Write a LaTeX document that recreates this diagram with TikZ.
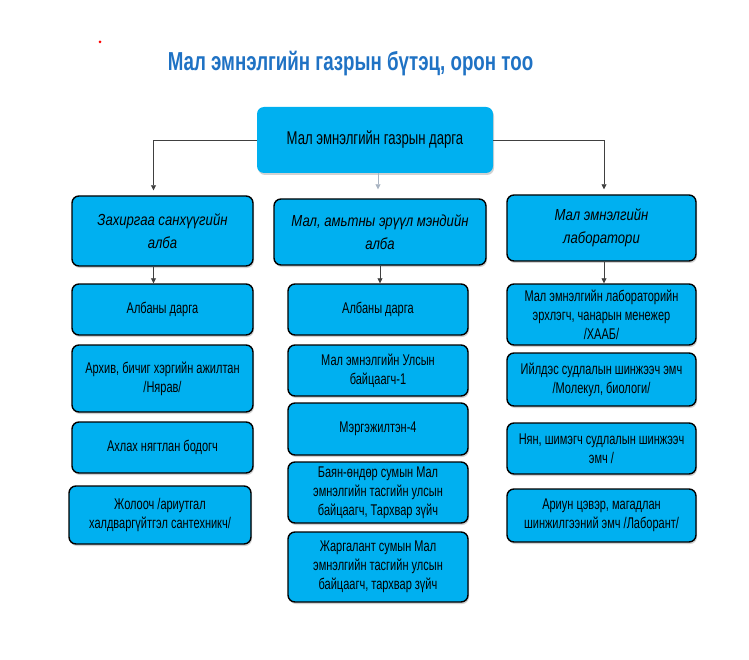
\documentclass[tikz,border=0pt]{standalone}
\usepackage{fontspec}
\setmainfont[FakeStretch=0.71]{Liberation Sans}
\newfontfamily\titlefont[FakeStretch=0.72]{Liberation Sans}
\newfontfamily\deptfont[FakeStretch=0.82]{Liberation Sans}
\usetikzlibrary{arrows.meta,shadows}
\definecolor{boxblue}{HTML}{00B0F0}
\definecolor{titleblue}{HTML}{1F72C4}
\definecolor{linkgray}{HTML}{A9B4C2}
\definecolor{linkdark}{HTML}{404040}

\begin{document}
\begin{tikzpicture}
  [x=1pt,y=-1pt,
   head/.style={rounded corners=7pt,fill=boxblue,align=center,inner sep=0pt,
     font=\fontsize{18.5}{22}\selectfont,minimum width=236pt,minimum height=66pt,
     drop shadow={shadow xshift=1pt,shadow yshift=-2pt,fill=black!35}},
   dept/.style={head,draw=black,line width=1.4pt,font=\deptfont\fontsize{16}{23}\selectfont\itshape},
   unit/.style={head,draw=black,line width=1.4pt,font=\fontsize{15.5}{19}\selectfont},
   link/.style={draw=linkdark,line width=0.8pt,-{Triangle[length=5pt,width=5pt]}}]
  \useasboundingbox (0,0) rectangle (749,660);

  \fill [red] (100,42) circle (1.5);
  \node [font=\titlefont\bfseries\fontsize{26}{30}\selectfont,text=titleblue,anchor=base] (title) at (350.5,71)
    {Мал эмнэлгийн газрын бүтэц, орон тоо};

  \node [head] (chief) at (375,140) {Мал эмнэлгийн газрын дарга};

  \node [dept,minimum width=181pt,minimum height=70pt] (admin) at (162.5,231) {Захиргаа санхүүгийн\\алба};
  \node [dept,minimum width=212pt] (health) at (380,232) {Мал, амьтны эрүүл мэндийн\\алба};
  \node [dept,minimum width=189pt] (lab) at (601.5,228) {Мал эмнэлгийн\\лаборатори};

  \node [unit,minimum width=181pt,minimum height=51pt] (a1) at (162.5,309.5) {Албаны дарга};
  \node [unit,minimum width=181pt,minimum height=67pt] (a2) at (162.5,378.5) {Архив, бичиг хэргийн ажилтан\\/Нярав/};
  \node [unit,minimum width=181pt,minimum height=51pt] (a3) at (162.5,447.5) {Ахлах нягтлан бодогч};
  \node [unit,minimum width=182pt,minimum height=58pt] (a4) at (160,515) {Жолооч /ариутгал\\халдваргүйтгэл сантехникч/};

  \node [unit,minimum width=180pt,minimum height=51pt] (v1) at (378,309.5) {Албаны дарга};
  \node [unit,minimum width=180pt,minimum height=51pt] (v2) at (378,370.5) {Мал эмнэлгийн Улсын\\байцаагч-1};
  \node [unit,minimum width=180pt,minimum height=52pt] (v3) at (378,429) {Мэргэжилтэн-4};
  \node [unit,minimum width=180pt,minimum height=61pt] (v4) at (378,492.5) {Баян-өндөр сумын Мал\\эмнэлгийн тасгийн улсын\\байцаагч, Тархвар зүйч};
  \node [unit,minimum width=180pt,minimum height=70pt] (v5) at (378,567) {Жаргалант сумын Мал\\эмнэлгийн тасгийн улсын\\байцаагч, тархвар зүйч};

  \node [unit,minimum width=189pt,minimum height=61pt] (l1) at (601.5,314.5) {Мал эмнэлгийн лабораторийн\\эрхлэгч, чанарын менежер\\/ХААБ/};
  \node [unit,minimum width=189pt,minimum height=53pt] (l2) at (601.5,379.5) {Ийлдэс судлалын шинжээч эмч\\/Молекул, биологи/};
  \node [unit,minimum width=189pt,minimum height=51pt] (l3) at (601.5,448.5) {Нян, шимэгч судлалын шинжээч\\эмч /};
  \node [unit,minimum width=189pt,minimum height=53pt] (l4) at (601.5,515.5) {Ариун цэвэр, магадлан\\шинжилгээний эмч /Лаборант/};

  \draw [link,shorten >=5pt] (chief.west) -| ([xshift=-9pt]admin.north);
  \draw [link,shorten >=5pt] (chief.east) -| ([xshift=2.5pt]lab.north);
  \draw [link,draw=linkgray,shorten >=9pt] ([xshift=3pt]chief.south) -- ([xshift=-2pt]health.north);

  \foreach \from/\to/\dx in {admin/a1/-9,health/v1/0,lab/l1/2.5}
    \draw [link] ([xshift=\dx pt]\from.south) -- ([xshift=\dx pt]\from.south |- \to.north);

\end{tikzpicture}
\end{document}
